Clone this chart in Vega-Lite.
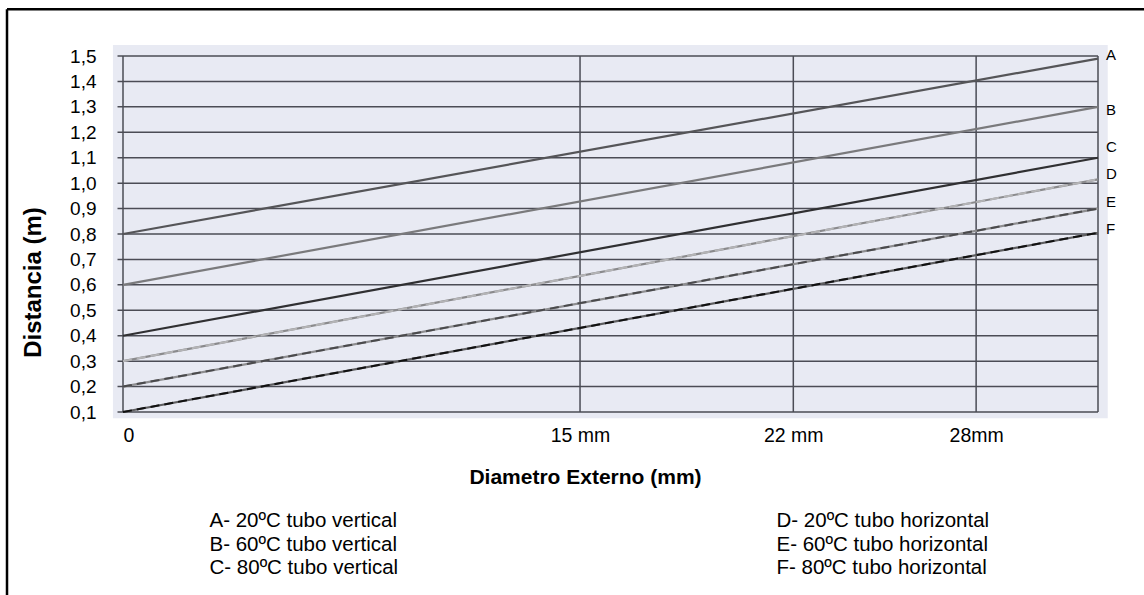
{
  "$schema": "https://vega.github.io/schema/vega-lite/v6.json",
  "autosize": "none",
  "width": 975,
  "height": 356,
  "padding": {"left": 123, "top": 56, "right": 46, "bottom": 183},
  "background": "white",
  "config": {
    "view": {"stroke": null},
    "font": "Liberation Sans",
    "axisY": {
      "labelExpr": "replace(format(datum.value, '.1f'), '.', ',')",
      "labelOverlap": false,
      "grid": false, "ticks": false, "domain": false,
      "labelFontSize": 19, "labelColor": "#000", "labelPadding": 27,
      "titleFontSize": 24, "titleFontWeight": "bold", "titleColor": "#000",
      "titleX": -90, "titleY": 226, "titleBaseline": "middle", "titleAlign": "center"
    },
    "axisX": {
      "labelExpr": "datum.value == 0 ? '0' : datum.value == 15 ? '15 mm' : datum.value == 22 ? '22 mm' : datum.value == 28 ? '28mm' : ''",
      "labelOverlap": false,
      "grid": false, "ticks": false, "domain": false,
      "labelFontSize": 19.5, "labelColor": "#000", "labelPadding": 14,
      "titleFontSize": 21, "titleFontWeight": "bold", "titleColor": "#000",
      "titleX": 462, "titleY": 65, "titleBaseline": "middle", "titleAlign": "center"
    },
    "legend": {
      "orient": "none", "legendX": 66, "legendY": 455,
      "columns": 2, "columnPadding": 357, "rowPadding": 2.5,
      "symbolSize": 0, "symbolOpacity": 0, "symbolStrokeWidth": 0,
      "labelFontSize": 20.5, "labelColor": "#000", "labelLimit": 400, "labelOffset": 0
    }
  },
  "datasets": {
    "lines": [
      {"s": "A", "desc": "A- 20ºC tubo vertical", "d": 0, "v": 0.8},
      {"s": "A", "desc": "A- 20ºC tubo vertical", "d": 32, "v": 1.49},
      {"s": "B", "desc": "B- 60ºC tubo vertical", "d": 0, "v": 0.6},
      {"s": "B", "desc": "B- 60ºC tubo vertical", "d": 32, "v": 1.3},
      {"s": "C", "desc": "C- 80ºC tubo vertical", "d": 0, "v": 0.4},
      {"s": "C", "desc": "C- 80ºC tubo vertical", "d": 32, "v": 1.1},
      {"s": "D", "desc": "D- 20ºC tubo horizontal", "d": 0, "v": 0.3},
      {"s": "D", "desc": "D- 20ºC tubo horizontal", "d": 32, "v": 1.015},
      {"s": "E", "desc": "E- 60ºC tubo horizontal", "d": 0, "v": 0.2},
      {"s": "E", "desc": "E- 60ºC tubo horizontal", "d": 32, "v": 0.9},
      {"s": "F", "desc": "F- 80ºC tubo horizontal", "d": 0, "v": 0.1},
      {"s": "F", "desc": "F- 80ºC tubo horizontal", "d": 32, "v": 0.805}
    ],
    "labels": [
      {"s": "A", "v": 1.505},
      {"s": "B", "v": 1.288},
      {"s": "C", "v": 1.143},
      {"s": "D", "v": 1.036},
      {"s": "E", "v": 0.926},
      {"s": "F", "v": 0.82}
    ],
    "ygrid": [
      {"v": 0.1}, {"v": 0.2}, {"v": 0.3}, {"v": 0.4}, {"v": 0.5}, {"v": 0.6}, {"v": 0.7}, {"v": 0.8},
      {"v": 0.9}, {"v": 1.0}, {"v": 1.1}, {"v": 1.2}, {"v": 1.3}, {"v": 1.4}, {"v": 1.5}
    ],
    "xgrid": [{"d": 0}, {"d": 15}, {"d": 22}, {"d": 28}, {"d": 32}]
  },
  "layer": [
    {
      "data": {"values": [{}]},
      "mark": {"type": "rect", "color": "#e8eaf3"},
      "encoding": {
        "x": {"datum": -0.33, "type": "quantitative", "scale": {"domain": [0, 32], "nice": false, "zero": false}, "axis": {"values": [0, 15, 22, 28], "title": "Diametro Externo (mm)"}},
        "x2": {"datum": 32.32},
        "y": {"datum": 1.543, "type": "quantitative", "scale": {"domain": [0.1, 1.5], "nice": false, "zero": false}, "axis": {"values": [0.1, 0.2, 0.3, 0.4, 0.5, 0.6, 0.7, 0.8, 0.9, 1.0, 1.1, 1.2, 1.3, 1.4, 1.5], "title": "Distancia (m)"}},
        "y2": {"datum": 0.075}
      }
    },
    {
      "data": {"name": "ygrid"},
      "mark": {"type": "rule", "color": "#4b4c55", "strokeWidth": 1.5},
      "encoding": {
        "y": {"field": "v", "type": "quantitative", "scale": {"domain": [0.1, 1.5], "nice": false, "zero": false}, "axis": {"values": [0.1, 0.2, 0.3, 0.4, 0.5, 0.6, 0.7, 0.8, 0.9, 1.0, 1.1, 1.2, 1.3, 1.4, 1.5], "title": "Distancia (m)"}},
        "x": {"datum": -0.18, "type": "quantitative", "scale": {"domain": [0, 32], "nice": false, "zero": false}, "axis": {"values": [0, 15, 22, 28], "title": "Diametro Externo (mm)"}},
        "x2": {"datum": 32}
      }
    },
    {
      "data": {"name": "xgrid"},
      "mark": {"type": "rule", "color": "#4b4c55", "strokeWidth": 1.5},
      "encoding": {
        "x": {"field": "d", "type": "quantitative", "scale": {"domain": [0, 32], "nice": false, "zero": false}, "axis": {"values": [0, 15, 22, 28], "title": "Diametro Externo (mm)"}},
        "y": {"datum": 0.1, "type": "quantitative", "scale": {"domain": [0.1, 1.5], "nice": false, "zero": false}, "axis": {"values": [0.1, 0.2, 0.3, 0.4, 0.5, 0.6, 0.7, 0.8, 0.9, 1.0, 1.1, 1.2, 1.3, 1.4, 1.5], "title": "Distancia (m)"}},
        "y2": {"datum": 1.5}
      }
    },
    {
      "data": {"name": "lines"},
      "mark": {"type": "line", "strokeWidth": 2.2},
      "encoding": {
        "x": {"field": "d", "type": "quantitative", "scale": {"domain": [0, 32], "nice": false, "zero": false}, "axis": {"values": [0, 15, 22, 28], "title": "Diametro Externo (mm)"}},
        "y": {"field": "v", "type": "quantitative", "scale": {"domain": [0.1, 1.5], "nice": false, "zero": false}, "axis": {"values": [0.1, 0.2, 0.3, 0.4, 0.5, 0.6, 0.7, 0.8, 0.9, 1.0, 1.1, 1.2, 1.3, 1.4, 1.5], "title": "Distancia (m)"}},
        "color": {
          "field": "desc", "type": "nominal",
          "scale": {
            "domain": ["A- 20ºC tubo vertical", "B- 60ºC tubo vertical", "C- 80ºC tubo vertical", "D- 20ºC tubo horizontal", "E- 60ºC tubo horizontal", "F- 80ºC tubo horizontal"],
            "range": ["#555558", "#7a7a7c", "#303032", "#8a8a8c", "#8e8e90", "#5e5e60"]
          },
          "legend": {"title": null}
        }
      }
    },
    {
      "data": {"name": "lines"},
      "transform": [{"filter": "datum.s == 'D' || datum.s == 'E' || datum.s == 'F'"}],
      "mark": {"type": "line", "strokeWidth": 2, "strokeDash": [9, 5]},
      "encoding": {
        "x": {"field": "d", "type": "quantitative", "scale": {"domain": [0, 32], "nice": false, "zero": false}, "axis": {"values": [0, 15, 22, 28], "title": "Diametro Externo (mm)"}},
        "y": {"field": "v", "type": "quantitative", "scale": {"domain": [0.1, 1.5], "nice": false, "zero": false}, "axis": {"values": [0.1, 0.2, 0.3, 0.4, 0.5, 0.6, 0.7, 0.8, 0.9, 1.0, 1.1, 1.2, 1.3, 1.4, 1.5], "title": "Distancia (m)"}},
        "stroke": {
          "field": "s", "type": "nominal",
          "scale": {"domain": ["D", "E", "F"], "range": ["#b4b4b6", "#4a4a4c", "#111111"]},
          "legend": null
        }
      }
    },
    {
      "data": {"name": "labels"},
      "mark": {"type": "text", "align": "left", "baseline": "middle", "dx": 8, "fontSize": 15, "color": "#000"},
      "encoding": {
        "x": {"datum": 32, "type": "quantitative", "scale": {"domain": [0, 32], "nice": false, "zero": false}, "axis": {"values": [0, 15, 22, 28], "title": "Diametro Externo (mm)"}},
        "y": {"field": "v", "type": "quantitative", "scale": {"domain": [0.1, 1.5], "nice": false, "zero": false}, "axis": {"values": [0.1, 0.2, 0.3, 0.4, 0.5, 0.6, 0.7, 0.8, 0.9, 1.0, 1.1, 1.2, 1.3, 1.4, 1.5], "title": "Distancia (m)"}},
        "text": {"field": "s"}
      }
    },
    {
      "data": {"values": [{}]},
      "mark": {"type": "rule", "color": "#000", "strokeWidth": 2.5},
      "encoding": {
        "x": {"datum": -3.807, "type": "quantitative", "scale": {"domain": [0, 32], "nice": false, "zero": false}, "axis": {"values": [0, 15, 22, 28], "title": "Diametro Externo (mm)"}},
        "y": {"datum": 1.6836, "type": "quantitative", "scale": {"domain": [0.1, 1.5], "nice": false, "zero": false}, "axis": {"values": [0.1, 0.2, 0.3, 0.4, 0.5, 0.6, 0.7, 0.8, 0.9, 1.0, 1.1, 1.2, 1.3, 1.4, 1.5], "title": "Distancia (m)"}},
        "y2": {"datum": -0.7}
      }
    },
    {
      "data": {"values": [{}]},
      "mark": {"type": "rule", "color": "#000", "strokeWidth": 2.5},
      "encoding": {
        "x": {"datum": -3.807, "type": "quantitative", "scale": {"domain": [0, 32], "nice": false, "zero": false}, "axis": {"values": [0, 15, 22, 28], "title": "Diametro Externo (mm)"}},
        "x2": {"datum": 34},
        "y": {"datum": 1.6836, "type": "quantitative", "scale": {"domain": [0.1, 1.5], "nice": false, "zero": false}, "axis": {"values": [0.1, 0.2, 0.3, 0.4, 0.5, 0.6, 0.7, 0.8, 0.9, 1.0, 1.1, 1.2, 1.3, 1.4, 1.5], "title": "Distancia (m)"}}
      }
    }
  ]
}
